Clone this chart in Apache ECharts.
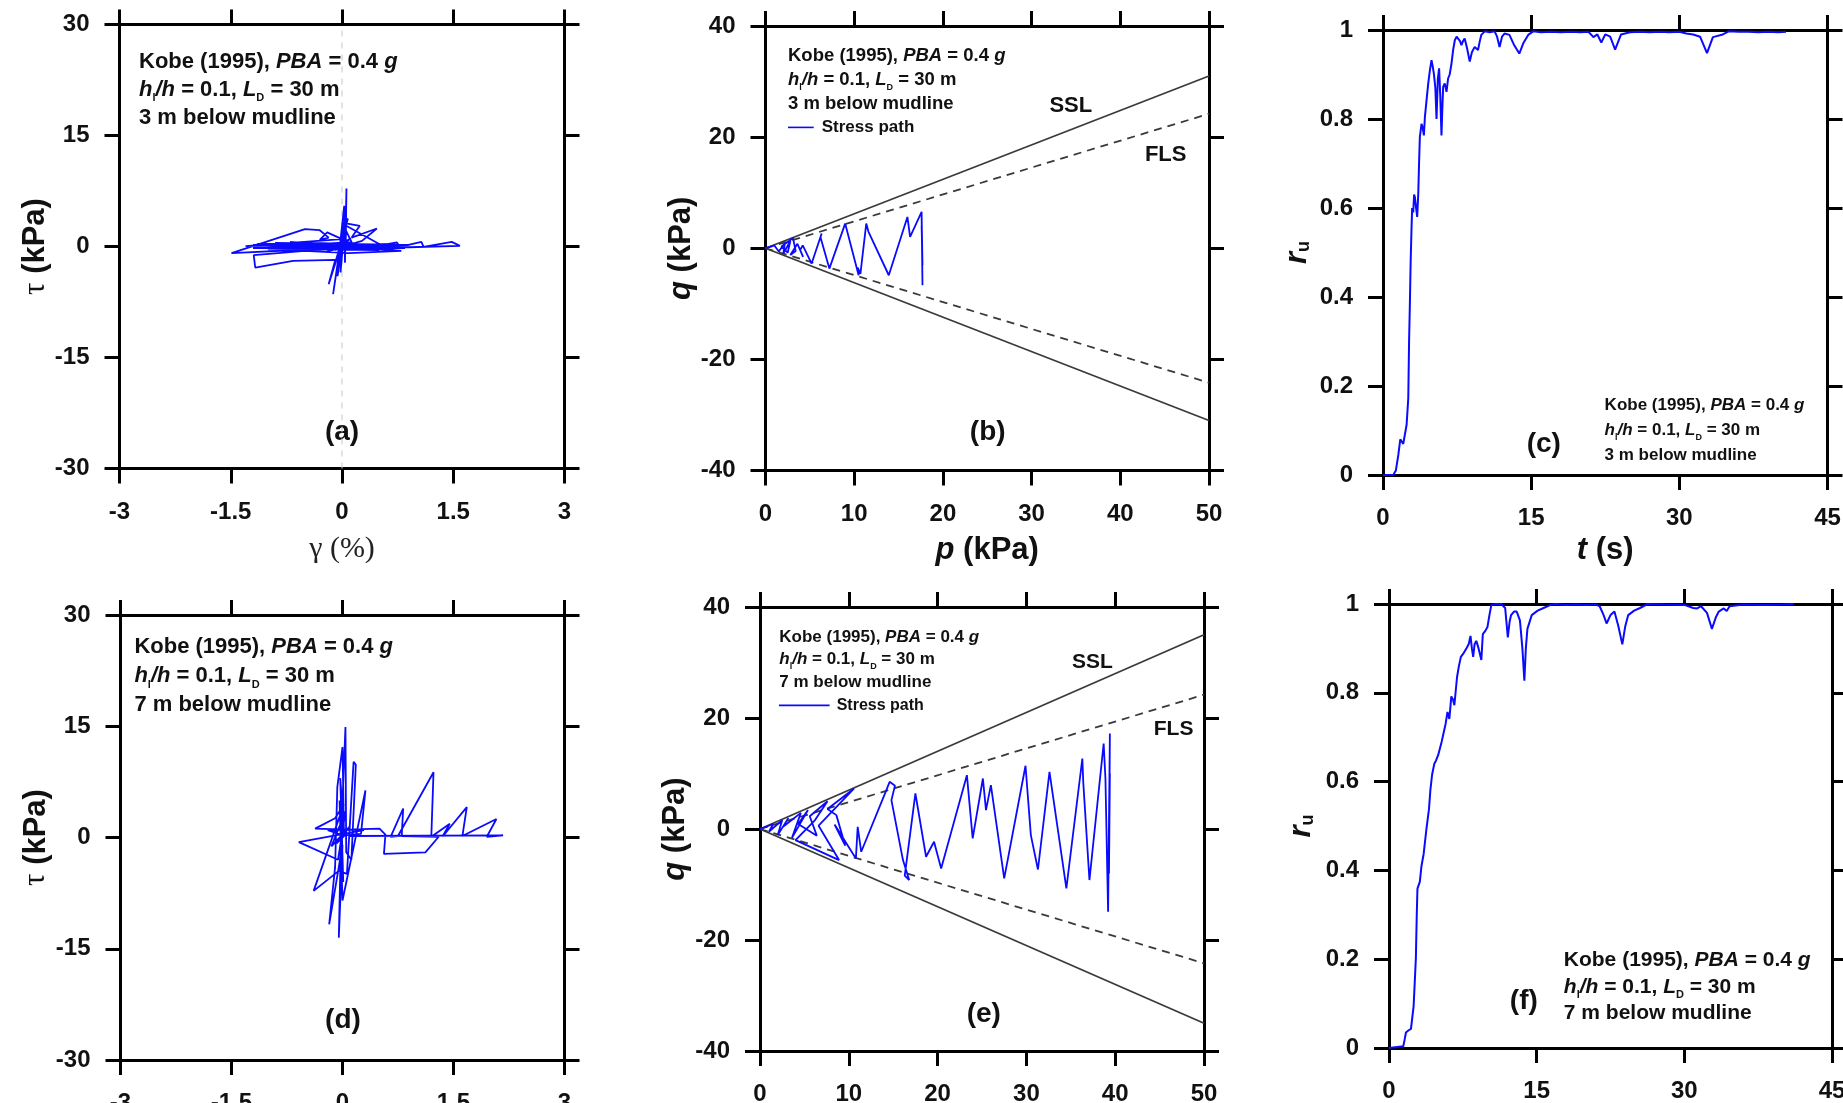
<!DOCTYPE html>
<html>
<head>
<meta charset="utf-8">
<script src="https://cdn.jsdelivr.net/npm/echarts@6/dist/echarts.min.js"></script>
<style>
  html, body { margin: 0; padding: 0; background: #ffffff; }
  #chart { width: 1843px; height: 1103px; }
</style>
</head>
<body>
<div id="chart"></div>
<script>
// ---------------- data ----------------
// Shear stress–strain response, [γ (%), τ (kPa)]
const loopA = [
  [0,0],[0.08,0.6],[-0.1,-0.5],[0.12,1.1],[-0.2,-0.7],[0.2,0.5],[-0.45,0.3],[0.4,-0.3],[-0.7,-0.1],[0.6,0.2],
  [-0.9,0.4],[0.3,-0.4],[-1.2,0.2],[0.1,0.3],
  [-1.1,0.4],[0.7,-0.3],[-1.2,-0.2],[0.9,0.2],[-0.9,0.5],[0.5,-0.5],[-1.0,-0.3],[0.8,0.1],[-0.7,0.6],
  [0.6,-0.2],[0.02,3.0],[-0.02,-3.5],[0.05,4.5],[-0.06,-4.0],[0.03,2.0],[-0.1,-2.5],[0.08,3.8],[-0.04,-0.2],
  [-1.49,-0.9],[-0.5,2.34],[-0.3,2.2],[-0.18,1.2],[-0.3,0.9],[-0.2,1.9],[0.0,1.0],[-1.3,0.05],[-0.4,0.3],[0.13,0.6],
  [0.0,3.24],[0.24,2.79],[0.13,1.21],[0.47,2.43],[0.27,0.76],[0.05,0.1],
  [0.06,7.83],[0.04,-2.2],[0.03,5.5],[-0.04,-1.0],[-0.12,-6.44],[-0.03,-0.4],[-0.18,-5.09],[-0.09,-1.8],
  [-0.66,-1.94],[-1.17,-2.84],[-1.19,-1.17],[-0.5,-0.6],[0.1,-0.9],[0.8,-0.6],[0.2,-0.2],
  [0.5,0.1],[0.74,0.54],[0.78,-0.05],[1.07,0.63],[1.1,-0.05],[1.48,0.63],[1.59,0.09],[0.9,-0.1],
  [-0.8,0.0],[0.6,0.3],[-1.0,-0.4],[0.3,0.0],[-1.15,0.3],[0.85,-0.2],[-0.6,-0.5],[0.7,0.4],[0.0,0.0]
];
const loopD = [
  [0,0],[0.05,0.5],[-0.08,-0.8],[0.1,1.5],[-0.15,-1.2],[0.04,3.5],[-0.06,-3.0],
  [-0.59,-0.63],[0.29,1.0],[-0.37,1.2],[-0.1,2.6],[0.02,4.5],[-0.39,-7.2],[-0.05,-4.5],[0.06,-4.9],
  [0.15,10.2],[0.18,9.8],[0.12,-3.0],[0.05,-2.0],
  [0.04,14.9],[-0.02,0.0],[-0.05,-13.5],[0.0,-1.0],[-0.18,-11.7],[-0.1,-4.0],[-0.07,6.8],[0.0,12.2],[0.02,0.5],
  [-0.03,8.0],[0.01,-6.0],[-0.04,5.0],[0.0,-8.5],
  [0.31,6.35],[0.25,0.5],[0.0,0.3],[-0.2,1.0],[0.5,1.2],[0.58,0.4],[0.56,-2.2],[1.12,-2.0],[1.3,0.1],
  [0.8,0.2],[0.82,3.9],[0.65,0.1],[0.75,0.2],[1.23,8.8],[1.2,0.1],[1.45,1.85],[1.35,0.1],
  [1.68,4.1],[1.62,0.2],[2.08,2.5],[1.95,0.1],[2.17,0.3],[0.1,0.2]
];
// Effective stress paths, [p (kPa), q (kPa)]
const pathB = [
  [0,0],[1.0,0.5],[1.5,-0.6],[2.2,1.0],[2.0,-1.0],[2.8,1.3],[2.5,-0.8],[1.8,0.3],[3.1,1.86],[3.4,-0.5],
  [2.8,-1.2],[3.6,0.8],[4.24,-1.56],[3.9,-0.3],[4.2,0.5],[5.2,-2.76],[6.33,2.64],[6.2,2.0],[7.2,-3.66],
  [8.98,4.44],[10.5,-4.86],[10.4,-3.5],[10.7,-4.6],[11.36,4.44],[11.6,3.0],[13.9,-4.86],[16.0,5.64],
  [16.3,2.04],[17.6,6.55],[17.7,-6.67],[17.6,5.8],[17.7,-3.0],[17.6,4.0]
];
const pathE = [
  [0,0],[1.5,0.9],[1.0,-0.5],[2.5,1.6],[2.0,-1.1],[3.2,2.0],[2.6,0.4],[4.6,2.9],[3.6,-1.6],[5.4,3.4],
  [4.3,0.9],[6.4,-1.2],[5.6,2.3],[7.6,5.0],[6.2,1.6],[4.0,-2.0],[8.9,-5.6],[6.6,0.6],[10.6,7.3],[7.6,3.6],
  [8.6,2.5],[9.6,-3.0],[8.4,0.8],[10.8,-5.3],[11.0,0.4],[11.4,-4.1],[14.0,6.1],[14.6,8.5],[15.2,7.8],
  [14.8,5.2],[16.1,-5.6],[16.8,-9.2],[16.3,-8.4],[17.5,6.4],[18.7,-5.0],[19.6,-2.3],[20.4,-7.1],
  [23.3,9.7],[23.95,-1.7],[25.1,9.1],[25.45,3.4],[26.0,7.9],[27.5,-8.9],[29.9,11.4],[30.5,-1.1],
  [31.3,-7.3],[32.6,10.3],[34.5,-10.7],[36.3,12.7],[36.4,8.5],[37.1,-9.2],[38.7,15.4],[38.9,9.1],
  [39.2,-14.9],[39.4,17.2],[39.3,-8.0],[39.4,10.0]
];
// Steady-state (SSL) and flow (FLS) lines: q at p = 0 and p = 50 kPa
const envelopeP = [0, 50];
const sslB = [0, 31.0];
const flsB = [0, 24.2];
const sslE = [0, 35.0];
const flsE = [0, 24.2];
// Reference line γ = 0
const zeroStrain = [[0, -30], [0, 30]];
// Excess pore pressure ratio histories, [t (s), r_u]
const ruC = [
  [0,0],[1.04,0],[1.3,0.01],[1.55,0.045],[1.75,0.08],[1.88,0.079],[2.05,0.07],[2.22,0.067],[2.39,0.113],
  [2.56,0.173],[2.64,0.3],[2.72,0.383],[2.8,0.48],[2.89,0.556],[2.95,0.6],[3.06,0.59],[3.15,0.63],
  [3.23,0.624],[3.35,0.6],[3.46,0.58],[3.57,0.632],[3.65,0.7],[3.73,0.759],[3.9,0.789],[4.02,0.78],
  [4.14,0.763],[4.24,0.804],[4.4,0.84],[4.58,0.88],[4.75,0.91],[4.91,0.932],[5.02,0.92],[5.15,0.902],
  [5.3,0.87],[5.42,0.8],[5.55,0.89],[5.68,0.914],[5.8,0.85],[5.92,0.763],[6.0,0.82],[6.09,0.872],
  [6.25,0.88],[6.43,0.861],[6.59,0.891],[6.75,0.9],[6.93,0.924],[7.1,0.955],[7.27,0.977],[7.45,0.985],
  [7.6,0.989],[7.8,0.975],[7.94,0.966],[8.1,0.975],[8.27,0.981],[8.5,0.96],[8.78,0.929],[9.0,0.95],
  [9.28,0.962],[9.45,0.958],[9.62,0.955],[9.8,0.975],[9.95,0.989],[10.3,0.997],[10.8,0.995],[11.3,0.997],
  [11.55,0.985],[11.8,0.962],[12.05,0.985],[12.3,0.992],[12.8,0.989],[13.3,0.965],[13.8,0.947],
  [14.2,0.97],[14.7,0.989],[15.2,0.997],[16,0.995],[17,0.996],[18,0.995],[19,0.996],[20,0.995],
  [20.8,0.996],[21.3,0.984],[21.7,0.99],[22.1,0.972],[22.5,0.99],[23.0,0.985],[23.5,0.956],[24.1,0.99],
  [25,0.995],[26,0.996],[27,0.995],[28,0.996],[29,0.995],[30,0.996],[30.7,0.992],[31.4,0.99],
  [32.1,0.985],[32.8,0.948],[33.4,0.984],[34.4,0.99],[35,0.997],[36,0.996],[37,0.996],[38,0.995],
  [39,0.996],[40,0.995],[40.8,0.996]
];
const ruF = [
  [0,0],[1.45,0.004],[1.6,0.02],[1.72,0.035],[2.0,0.04],[2.23,0.043],[2.5,0.094],[2.62,0.15],[2.73,0.203],
  [2.82,0.3],[2.89,0.359],[3.13,0.374],[3.3,0.41],[3.52,0.437],[3.79,0.491],[4.06,0.538],[4.2,0.58],
  [4.38,0.616],[4.6,0.64],[4.77,0.647],[5.0,0.66],[5.16,0.659],[5.35,0.69],[5.55,0.71],[5.75,0.73],
  [5.94,0.757],[6.13,0.741],[6.33,0.792],[6.5,0.785],[6.64,0.772],[6.91,0.835],[7.1,0.86],[7.3,0.881],
  [7.6,0.89],[7.89,0.901],[8.1,0.91],[8.28,0.928],[8.42,0.9],[8.55,0.881],[8.7,0.91],[8.87,0.917],
  [9.1,0.9],[9.38,0.874],[9.53,0.932],[9.8,0.94],[10.0,0.948],[10.2,0.975],[10.4,0.998],[10.9,1.0],
  [11.4,1.0],[11.8,0.991],[12.07,0.925],[12.25,0.96],[12.4,0.975],[12.7,0.983],[12.97,0.983],
  [13.3,0.963],[13.55,0.9],[13.75,0.827],[13.9,0.9],[14.06,0.944],[14.5,0.975],[15.1,0.985],
  [15.7,0.991],[16.3,0.997],[16.9,1.0],[18,0.998],[19,0.999],[20,0.998],[21.0,0.999],[21.4,0.995],
  [21.8,0.975],[22.1,0.956],[22.5,0.975],[22.9,0.983],[23.3,0.95],[23.7,0.909],[24.0,0.95],[24.3,0.975],
  [24.9,0.985],[25.5,0.991],[26.25,1.0],[28,0.999],[30,0.998],[30.9,0.991],[31.3,0.99],[31.7,0.995],
  [32.3,0.98],[32.8,0.944],[33.2,0.97],[33.5,0.983],[34.0,0.99],[34.3,0.984],[34.6,0.995],[36,0.999],
  [38,0.998],[40,0.999],[41.1,1.0]
];
// Axis ranges: [min, max, interval]
const strainAxis = [-3, 3, 1.5];
const tauAxis = [-30, 30, 15];
const pAxis = [0, 50, 10];
const qAxis = [-40, 40, 20];
const timeAxis = [0, 45, 15];
const ruAxis = [0, 1, 0.2];

// ---------------- styling ----------------
const SANS = "'Liberation Sans', Arial, Helvetica, sans-serif";
const SERIF = "'Liberation Serif', 'Times New Roman', serif";
const INK = '#111111';
const BLUE = '#0a0aff';
const ENVELOPE = '#3a3a3a';

const grids = [
  { left: 119.5, top: 24.5, width: 445, height: 444 },   // (a)
  { left: 765.5, top: 26, width: 443.5, height: 444.5 }, // (b)
  { left: 1383, top: 30, width: 444.5, height: 445 },    // (c)
  { left: 120.5, top: 615, width: 444, height: 445 },    // (d)
  { left: 760, top: 607, width: 444, height: 444 },      // (e)
  { left: 1389, top: 604, width: 443, height: 444 }      // (f)
].map(g => Object.assign({ outerBoundsMode: 'none', containLabel: false }, g));

const boldName = { fontFamily: SANS, fontWeight: 'bold', fontSize: 31, color: INK };
const names = {
  gamma: { text: '{g|γ (%)}', rich: { g: { fontFamily: SERIF, fontSize: 30, fontWeight: 'normal', color: '#222' } } },
  tau: { text: '{t|τ} {b|(kPa)}', rich: { t: { fontFamily: SERIF, fontSize: 31, fontWeight: 'normal', color: INK }, b: boldName } },
  p: { text: '{i|p} {b|(kPa)}', rich: { i: Object.assign({}, boldName, { fontStyle: 'italic' }), b: boldName } },
  q: { text: '{i|q} {b|(kPa)}', rich: { i: Object.assign({}, boldName, { fontStyle: 'italic' }), b: boldName } },
  t: { text: '{i|t} {b|(s)}', rich: { i: Object.assign({}, boldName, { fontStyle: 'italic' }), b: boldName } },
  ru: { text: '{i|r}{s|u}', rich: { i: Object.assign({}, boldName, { fontStyle: 'italic', lineHeight: 31 }),
        s: { fontFamily: SANS, fontWeight: 'bold', fontSize: 18, color: INK, lineHeight: 14, verticalAlign: 'bottom' } } }
};

const xAxes = [], yAxes = [];
function tickLabel(margin) {
  return { show: true, margin: margin, fontFamily: SANS, fontWeight: 'bold', fontSize: 24, lineHeight: 24, color: INK };
}
function baseAxis(gi, r) {
  return {
    gridIndex: gi, type: 'value', min: r[0], max: r[1], interval: r[2],
    splitLine: { show: false },
    axisLine: { show: true, onZero: false, lineStyle: { color: '#000', width: 3 } },
    axisTick: { show: true, inside: false, length: 15, lineStyle: { color: '#000', width: 3 } }
  };
}
function addAxes(gi, xr, yr, xName, xGap, yName, yGap) {
  const xb = Object.assign(baseAxis(gi, xr), { position: 'bottom', axisLabel: tickLabel(31.5) });
  if (xName) {
    Object.assign(xb, { name: xName.text, nameLocation: 'middle', nameGap: xGap,
      nameTextStyle: { fontFamily: SANS, fontSize: 31, fontWeight: 'bold', color: INK, rich: xName.rich } });
  }
  xAxes.push(xb);
  xAxes.push(Object.assign(baseAxis(gi, xr), { position: 'top', axisLabel: { show: false } }));
  const yl = Object.assign(baseAxis(gi, yr), { position: 'left', axisLabel: tickLabel(30) });
  if (yName) {
    Object.assign(yl, { name: yName.text, nameLocation: 'middle', nameGap: yGap, nameRotate: 90,
      nameTextStyle: { fontFamily: SANS, fontSize: 31, fontWeight: 'bold', color: INK, rich: yName.rich } });
  }
  yAxes.push(yl);
  yAxes.push(Object.assign(baseAxis(gi, yr), { position: 'right', axisLabel: { show: false } }));
}
addAxes(0, strainAxis, tauAxis, names.gamma, 66, names.tau, 68);
addAxes(1, pAxis, qAxis, names.p, 64, names.q, 67);
addAxes(2, timeAxis, ruAxis, names.t, 60, names.ru, 70);
addAxes(3, strainAxis, tauAxis, null, 0, names.tau, 69);
addAxes(4, pAxis, qAxis, null, 0, names.q, 65);
addAxes(5, timeAxis, ruAxis, null, 0, names.ru, 72);

function lineSeries(gi, data, lineStyle, z) {
  return {
    type: 'line', xAxisIndex: 2 * gi, yAxisIndex: 2 * gi, data: data,
    showSymbol: false, symbol: 'none', silent: true, animation: false, clip: true,
    lineStyle: lineStyle, z: z || 3
  };
}
const pathStyle = { color: BLUE, width: 1.8 };
const ruStyle = { color: BLUE, width: 2 };
const sslStyle = { color: ENVELOPE, width: 1.8 };
const flsStyle = { color: ENVELOPE, width: 1.8, type: [8, 6] };
const upper = q => envelopeP.map((p, i) => [p, q[i]]);
const lower = q => envelopeP.map((p, i) => [p, -q[i]]);

const series = [
  lineSeries(0, zeroStrain, { color: '#c8c8c8', width: 1, type: [6, 6] }, 1),
  lineSeries(0, loopA, pathStyle),
  lineSeries(1, upper(sslB), sslStyle, 2),
  lineSeries(1, lower(sslB), sslStyle, 2),
  lineSeries(1, upper(flsB), flsStyle, 2),
  lineSeries(1, lower(flsB), flsStyle, 2),
  lineSeries(1, pathB, pathStyle),
  lineSeries(2, ruC, ruStyle),
  lineSeries(3, loopD, pathStyle),
  lineSeries(4, upper(sslE), sslStyle, 2),
  lineSeries(4, lower(sslE), sslStyle, 2),
  lineSeries(4, upper(flsE), flsStyle, 2),
  lineSeries(4, lower(flsE), flsStyle, 2),
  lineSeries(4, pathE, pathStyle),
  lineSeries(5, ruF, ruStyle)
];

// ---------------- annotations ----------------
function noteRich(size, lh) {
  const base = { fontFamily: SANS, fontWeight: 'bold', fontSize: size, lineHeight: lh, fill: INK };
  return {
    n: base,
    i: Object.assign({}, base, { fontStyle: 'italic' }),
    s: { fontFamily: SANS, fontWeight: 'bold', fontSize: Math.round(size * 0.5), lineHeight: Math.round(size * 0.45), fill: INK, verticalAlign: 'bottom' }
  };
}
function note(x, y, size, lh, depth) {
  return {
    type: 'text', x: x, y: y, silent: true,
    style: {
      text: '{n|Kobe (1995), }{i|PBA}{n| = 0.4 }{i|g}\n{i|h}{s|l}{i|/h}{n| = 0.1, }{i|L}{s|D}{n| = 30 m}\n{n|' + depth + ' m below mudline}',
      rich: noteRich(size, lh), align: 'left', verticalAlign: 'top', fill: INK
    }
  };
}
function label(x, y, text, size) {
  return {
    type: 'text', x: x, y: y, silent: true,
    style: { text: text, fontFamily: SANS, fontWeight: 'bold', fontSize: size, fill: INK, align: 'center', verticalAlign: 'middle' }
  };
}
function legendKey(x1, x2, y, textX, size) {
  return [
    { type: 'line', silent: true, shape: { x1: x1, y1: y, x2: x2, y2: y }, style: { stroke: BLUE, lineWidth: 1.6 } },
    { type: 'text', x: textX, y: y, silent: true,
      style: { text: 'Stress path', fontFamily: SANS, fontWeight: 'bold', fontSize: size, fill: INK, align: 'left', verticalAlign: 'middle' } }
  ];
}

const graphics = [
  note(139, 47.7, 22, 28, 3),
  note(788, 44.4, 18.5, 23.7, 3),
  note(1604.6, 392.5, 17, 25, 3),
  note(134.4, 632, 22, 29, 7),
  note(779.3, 625.5, 17, 22.8, 7),
  note(1563.8, 946.6, 21, 26.8, 7),
  label(342, 432, '(a)', 28),
  label(987.7, 432, '(b)', 28),
  label(1543.8, 444.5, '(c)', 28),
  label(343, 1020.6, '(d)', 28),
  label(983.8, 1014.4, '(e)', 28),
  label(1523.8, 1001.5, '(f)', 28),
  label(1070.8, 106.4, 'SSL', 22),
  label(1165.7, 155.3, 'FLS', 22),
  label(1092.5, 662.2, 'SSL', 21),
  label(1173.6, 729, 'FLS', 21)
].concat(legendKey(788, 813.7, 127.4, 821.7, 17), legendKey(779, 829.6, 705.4, 836.7, 16));

const chart = echarts.init(document.getElementById('chart'), null, { renderer: 'canvas', width: 1843, height: 1103 });
chart.setOption({
  animation: false,
  backgroundColor: '#ffffff',
  textStyle: { fontFamily: SANS },
  grid: grids,
  xAxis: xAxes,
  yAxis: yAxes,
  series: series,
  graphic: { elements: graphics }
});
</script>
</body>
</html>
